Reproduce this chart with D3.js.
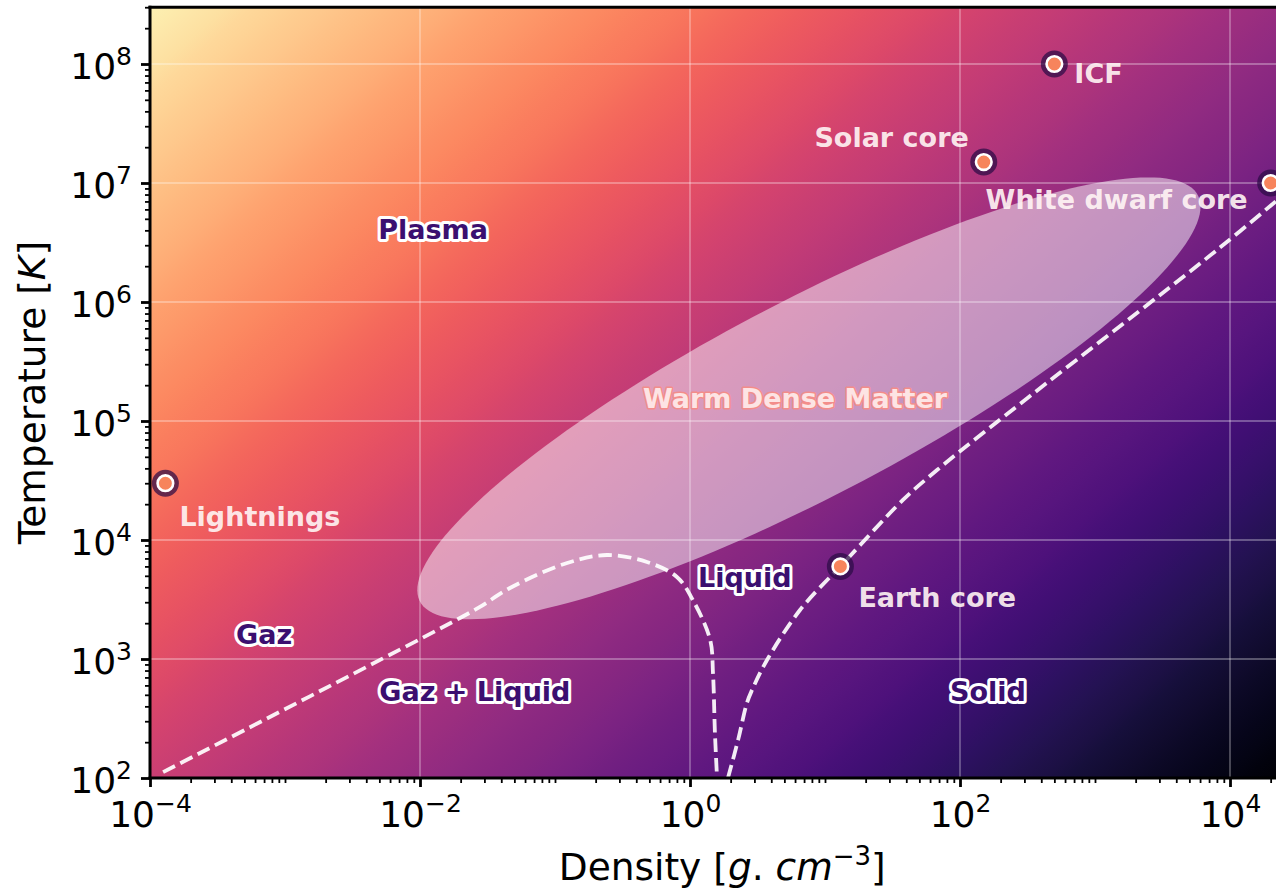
<!DOCTYPE html>
<html>
<head>
<meta charset="utf-8">
<script src="https://cdn.jsdelivr.net/npm/d3@7"></script>
<style>
  html, body { margin: 0; padding: 0; background: #ffffff; overflow: hidden; }
  svg { display: block; font-family: "DejaVu Sans", sans-serif; }
</style>
</head>
<body>
<svg id="chart" width="1276" height="893"></svg>
<script>
// ---- Phase diagram of matter: density [g/cm^3] vs temperature [K] ----

// Reference objects
const pointNames = ["Lightnings", "Earth core", "Solar core", "ICF", "White dwarf core"];
const pointDensity = [1.3e-4, 13, 150, 500, 2e4];
const pointTemperature = [3e4, 6000, 1.5e7, 1e8, 1e7];

// Gas / liquid coexistence boundary
const gasLiquidDensity = [1.25e-4, 0.0158, 0.0278, 0.0464, 0.123, 0.243, 0.48, 0.80, 1.05, 1.41, 1.48, 1.53, 1.585];
const gasLiquidTemperature = [112, 1930, 2740, 3950, 6410, 7480, 6530, 4890, 3130, 1450, 762, 239, 102];

// Melting (solid) boundary
const meltingDensity = [1.91, 2.27, 2.64, 2.88, 3.72, 6.53, 10.9, 13, 37.8, 67.6, 188, 8020, 3e4];
const meltingTemperature = [100, 208, 427, 548, 982, 2580, 4890, 6000, 21700, 38700, 98200, 2.74e6, 9.5e6];

// Phase regions
const regionNames = ["Plasma", "Gaz", "Gaz + Liquid", "Liquid", "Solid"];
const regionDensity = [0.0125, 7e-4, 0.0255, 2.55, 161];
const regionTemperature = [4.1e6, 1.6e3, 540, 4900, 540];

// Warm dense matter domain: ellipse in log-log space
const wdmName = "Warm Dense Matter";
const wdmCenterDensity = 7.6;
const wdmCenterTemperature = 1.55e5;
const wdmSemiMajorDecades = 3.35;
const wdmSemiMinorDecades = 0.80;
const wdmAngleDeg = 31;
const wdmLabelDensity = 6.0;
const wdmLabelTemperature = 1.55e5;

// Axes
const densityDomain = [1e-4, 3e4];
const temperatureDomain = [1e2, 3e8];
const densityMajorTicks = [1e-4, 1e-2, 1, 1e2, 1e4];
const temperatureMajorTicks = [1e2, 1e3, 1e4, 1e5, 1e6, 1e7, 1e8];

// ---- layout ----
const left = 150, bottom = 778;
const pxPerDecadeX = 135, pxPerDecadeY = 119;
const x = d3.scaleLog().domain(densityDomain)
  .range([left, left + pxPerDecadeX * Math.log10(densityDomain[1] / densityDomain[0])]);
const y = d3.scaleLog().domain(temperatureDomain)
  .range([bottom, bottom - pxPerDecadeY * Math.log10(temperatureDomain[1] / temperatureDomain[0])]);
const [x0, x1] = x.range();
const [y0, y1] = [y.range()[1], y.range()[0]];

const svg = d3.select("#chart");
const defs = svg.append("defs");

defs.append("clipPath").attr("id", "plot-clip")
  .append("rect").attr("x", x0).attr("y", y0).attr("width", x1 - x0).attr("height", y1 - y0);

// Diagonal magma background: bright in the hot/dilute corner, dark in the cold/dense corner
const tStart = 0.97, slopeX = 4.8e-4, slopeY = 5.45e-4;
const gNorm = Math.hypot(slopeX, slopeY);
const gLen = tStart / gNorm;
const grad = defs.append("linearGradient").attr("id", "bg-grad")
  .attr("gradientUnits", "userSpaceOnUse")
  .attr("x1", x0).attr("y1", y0)
  .attr("x2", x0 + slopeX / gNorm * gLen).attr("y2", y0 + slopeY / gNorm * gLen);
const nStops = 80;
grad.selectAll("stop").data(d3.range(nStops + 1)).join("stop")
  .attr("offset", i => i / nStops)
  .attr("stop-color", i => d3.interpolateMagma(tStart * (1 - i / nStops)));

const plot = svg.append("g").attr("clip-path", "url(#plot-clip)");
plot.append("rect").attr("x", x0).attr("y", y0).attr("width", x1 - x0).attr("height", y1 - y0)
  .attr("fill", "url(#bg-grad)");

// Warm dense matter ellipse
const a = wdmAngleDeg * Math.PI / 180;
const lcx = Math.log10(wdmCenterDensity), lcy = Math.log10(wdmCenterTemperature);
const ellipsePts = d3.range(0, 2 * Math.PI, Math.PI / 90).map(t => {
  const lx = lcx + wdmSemiMajorDecades * Math.cos(a) * Math.cos(t) - wdmSemiMinorDecades * Math.sin(a) * Math.sin(t);
  const ly = lcy + wdmSemiMajorDecades * Math.sin(a) * Math.cos(t) + wdmSemiMinorDecades * Math.cos(a) * Math.sin(t);
  return [x(Math.pow(10, lx)), y(Math.pow(10, ly))];
});
plot.append("path").attr("d", d3.line().curve(d3.curveLinearClosed)(ellipsePts))
  .attr("fill", "#ffffff").attr("fill-opacity", 0.5);

// Grid
const grid = plot.append("g").attr("stroke", "#ffffff").attr("stroke-opacity", 0.3).attr("stroke-width", 1.8);
grid.selectAll(".gx").data(densityMajorTicks).join("line")
  .attr("x1", d => x(d)).attr("x2", d => x(d)).attr("y1", y0).attr("y2", y1);
grid.selectAll(".gy").data(temperatureMajorTicks).join("line")
  .attr("y1", d => y(d)).attr("y2", d => y(d)).attr("x1", x0).attr("x2", x1);

// Phase boundaries
const boundary = d3.line().x(d => x(d[0])).y(d => y(d[1])).curve(d3.curveCatmullRom.alpha(0.5));
[[gasLiquidDensity, gasLiquidTemperature], [meltingDensity, meltingTemperature]].forEach(([dd, tt]) => {
  plot.append("path").attr("d", boundary(d3.zip(dd, tt)))
    .attr("fill", "none").attr("stroke", "#ffffff").attr("stroke-opacity", 0.92)
    .attr("stroke-width", 3.8).attr("stroke-dasharray", "13.5 6");
});

// Reference points
const pts = d3.zip(pointNames, pointDensity, pointTemperature);
const marks = plot.append("g").selectAll("g").data(pts).join("g")
  .attr("transform", d => `translate(${x(d[1])},${y(d[2])})`);
marks.append("circle").attr("r", 13.5).attr("fill", "#2b0b45").attr("fill-opacity", 0.72);
marks.append("circle").attr("r", 7.8).attr("fill", "#f7845c").attr("stroke", "#ffffff").attr("stroke-width", 2.6);

// Point labels
const pointLabelPlacement = {
  "Lightnings": { dx: 14, dy: 33, anchor: "start" },
  "Earth core": { dx: 18, dy: 31, anchor: "start" },
  "Solar core": { dx: -15, dy: -25, anchor: "end" },
  "ICF": { dx: 20, dy: 9, anchor: "start" },
  "White dwarf core": { dx: -23, dy: 16, anchor: "end" }
};
plot.append("g").selectAll("text").data(pts).join("text")
  .attr("x", d => x(d[1]) + pointLabelPlacement[d[0]].dx)
  .attr("y", d => y(d[2]) + pointLabelPlacement[d[0]].dy)
  .attr("dy", "0.36em")
  .attr("text-anchor", d => pointLabelPlacement[d[0]].anchor)
  .attr("font-size", 27).attr("font-weight", "bold")
  .attr("fill", "#fff4f4").attr("fill-opacity", 0.93)
  .text(d => d[0]);

// Region labels (dark text with white halo)
plot.append("g").selectAll("text").data(d3.zip(regionNames, regionDensity, regionTemperature)).join("text")
  .attr("x", d => x(d[1])).attr("y", d => y(d[2])).attr("dy", "0.36em")
  .attr("text-anchor", "middle")
  .attr("font-size", 27).attr("font-weight", "bold")
  .attr("fill", "#3b0f70").attr("stroke", "#ffffff").attr("stroke-width", 6)
  .attr("stroke-linejoin", "round").attr("paint-order", "stroke")
  .text(d => d[0]);

plot.append("text")
  .attr("x", x(wdmLabelDensity)).attr("y", y(wdmLabelTemperature)).attr("dy", "0.36em")
  .attr("text-anchor", "middle").attr("font-size", 27).attr("font-weight", "bold")
  .attr("fill", "#fde4e4").attr("stroke", "#f38d8a").attr("stroke-width", 3)
  .attr("stroke-linejoin", "round").attr("paint-order", "stroke")
  .text(wdmName);

// ---- axes ----
const supText = k => (k < 0 ? "\u2212" + (-k) : String(k));
const isMajor = (list, v) => list.some(m => Math.abs(m - v) / m < 1e-9);
const densityMinorTicks = x.ticks().filter(v => !isMajor(densityMajorTicks, v));
const temperatureMinorTicks = y.ticks().filter(v => !isMajor(temperatureMajorTicks, v));

const xMinorAxis = svg.append("g").attr("transform", `translate(0,${bottom})`)
  .call(d3.axisBottom(x).tickValues(densityMinorTicks).tickSize(5).tickSizeOuter(0).tickFormat(""));
const xMajorAxis = svg.append("g").attr("transform", `translate(0,${bottom})`)
  .call(d3.axisBottom(x).tickValues(densityMajorTicks).tickSize(9).tickSizeOuter(0).tickFormat(""));
const yMinorAxis = svg.append("g").attr("transform", `translate(${left},0)`)
  .call(d3.axisLeft(y).tickValues(temperatureMinorTicks).tickSize(5).tickSizeOuter(0).tickFormat(""));
const yMajorAxis = svg.append("g").attr("transform", `translate(${left},0)`)
  .call(d3.axisLeft(y).tickValues(temperatureMajorTicks).tickSize(9).tickSizeOuter(0).tickFormat(""));

[xMinorAxis, xMajorAxis, yMinorAxis, yMajorAxis].forEach(g => g.select(".domain").remove());
xMinorAxis.selectAll("line").attr("stroke", "#000").attr("stroke-width", 1.8);
yMinorAxis.selectAll("line").attr("stroke", "#000").attr("stroke-width", 1.8);
xMajorAxis.selectAll("line").attr("stroke", "#000").attr("stroke-width", 2.8);
yMajorAxis.selectAll("line").attr("stroke", "#000").attr("stroke-width", 2.8);

xMajorAxis.selectAll(".tick").append("text")
  .attr("y", 49).attr("fill", "#000").attr("text-anchor", "middle")
  .attr("font-size", 36).attr("font-family", "DejaVu Sans, sans-serif")
  .each(function (d) {
    const t = d3.select(this);
    t.append("tspan").text("10");
    t.append("tspan").attr("dy", -15).attr("font-size", 25).text(supText(Math.round(Math.log10(d))));
  });

yMajorAxis.selectAll(".tick").append("text")
  .attr("x", -18).attr("y", 14).attr("fill", "#000").attr("text-anchor", "end")
  .attr("font-size", 36).attr("font-family", "DejaVu Sans, sans-serif")
  .each(function (d) {
    const t = d3.select(this);
    t.append("tspan").text("10");
    t.append("tspan").attr("dy", -14).attr("font-size", 25).text(supText(Math.round(Math.log10(d))));
  });

// Spines
const spines = svg.append("g").attr("stroke", "#000").attr("stroke-width", 3).attr("stroke-linecap", "square");
spines.append("line").attr("x1", x0).attr("x2", x0).attr("y1", y0).attr("y2", y1);
spines.append("line").attr("x1", x0).attr("x2", x1).attr("y1", y1).attr("y2", y1);
spines.append("line").attr("x1", x0).attr("x2", x1).attr("y1", y0).attr("y2", y0);
spines.append("line").attr("x1", x1).attr("x2", x1).attr("y1", y0).attr("y2", y1);

// Axis titles
const xTitle = svg.append("text").attr("x", (x0 + x1) / 2).attr("y", 880)
  .attr("text-anchor", "middle").attr("font-size", 37.5).attr("fill", "#000");
xTitle.append("tspan").text("Density [");
xTitle.append("tspan").attr("font-style", "italic").text("g");
xTitle.append("tspan").text(". ");
xTitle.append("tspan").attr("font-style", "italic").text("cm");
xTitle.append("tspan").attr("dy", -15).attr("font-size", 26).text("\u22123");
xTitle.append("tspan").attr("dy", 15).text("]");

const yTitle = svg.append("text")
  .attr("transform", `translate(45,${(y0 + y1) / 2}) rotate(-90)`)
  .attr("text-anchor", "middle").attr("font-size", 37.5).attr("fill", "#000");
yTitle.append("tspan").text("Temperature [");
yTitle.append("tspan").attr("font-style", "italic").text("K");
yTitle.append("tspan").text("]");
</script>
</body>
</html>
